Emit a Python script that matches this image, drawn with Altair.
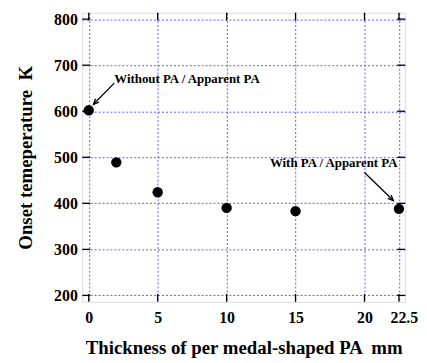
import altair as alt
import pandas as pd

thickness = [0, 2, 5, 10, 15, 22.5]
onset_temp = [602, 489, 424, 390, 383, 388]

x_ticks = [0, 5, 10, 15, 20, 22.5]
y_ticks = [200, 300, 400, 500, 600, 700, 800]
x_domain = [-0.47, 22.95]
y_domain = [186, 814]

notes = ["Without PA / Apparent PA", "With PA / Apparent PA"]
note_x = [1.85, 22.4]
note_y = [669, 487]
note_align = ["left", "right"]
arrow_x1 = [1.85, 20.0]
arrow_y1 = [661, 467]
arrow_x2 = [0.34, 22.09]
arrow_y2 = [615, 406]
arrow_angle = [225, 135]

FONT = "Liberation Serif"
W, H = 326, 292

df = pd.DataFrame({"t": thickness, "T": onset_temp})
xt = pd.DataFrame({"v": x_ticks})
yt = pd.DataFrame({"v": y_ticks})
ann = pd.DataFrame({"text": notes, "x": note_x, "y": note_y, "align": note_align})
arr = pd.DataFrame({"x1": arrow_x1, "y1": arrow_y1, "x2": arrow_x2, "y2": arrow_y2, "ang": arrow_angle})

xs = alt.Scale(domain=x_domain, nice=False, zero=False)
ys = alt.Scale(domain=y_domain, nice=False, zero=False)

xaxis = alt.Axis(values=x_ticks, grid=True, gridColor="#5a5aff", gridDash=[2, 2], gridWidth=1,
                 gridOpacity=1, tickSize=0, domain=False, labelFont=FONT, labelFontWeight="bold",
                 labelFontSize=16, labelColor="black", labelPadding=8, labelFlush=False,
                 labelOffset={"condition": {"test": "datum.value == 22.5", "value": 5}, "value": 0},
                 title="Thickness of per medal-shaped PA \u00a0mm", titleFont=FONT,
                 titleFontWeight="bold", titleFontSize=19, titleColor="black", titlePadding=13,
                 labelExpr="datum.value == 22.5 ? '22.5' : datum.label")
yaxis = alt.Axis(values=y_ticks, grid=True, gridColor="#5a5aff", gridDash=[2, 2], gridWidth=1,
                 gridOpacity=1, tickSize=0, domain=False, labelFont=FONT, labelFontWeight="bold",
                 labelFontSize=16, labelColor="black", labelPadding=5, format="d",
                 title="Onset temeperature \u00a0K", titleFont=FONT, titleFontWeight="bold",
                 titleFontSize=19, titleColor="black", titlePadding=18)

points = alt.Chart(df).mark_circle(size=110, color="black", opacity=1).encode(
    x=alt.X("t:Q", scale=xs, axis=xaxis),
    y=alt.Y("T:Q", scale=ys, axis=yaxis),
)

tick_len = 8
bottom_ticks = alt.Chart(xt).mark_rule(color="black", strokeWidth=1.3).encode(
    x=alt.X("v:Q", scale=xs), y=alt.value(H), y2=alt.value(H - tick_len))
top_ticks = alt.Chart(xt).mark_rule(color="black", strokeWidth=1.3).encode(
    x=alt.X("v:Q", scale=xs), y=alt.value(0), y2=alt.value(tick_len))
left_ticks = alt.Chart(yt).mark_rule(color="black", strokeWidth=1.3).encode(
    y=alt.Y("v:Q", scale=ys), x=alt.value(0), x2=alt.value(tick_len))
right_ticks = alt.Chart(yt).mark_rule(color="black", strokeWidth=1.3).encode(
    y=alt.Y("v:Q", scale=ys), x=alt.value(W), x2=alt.value(W - tick_len))

arrow_lines = alt.Chart(arr).mark_rule(color="black", strokeWidth=1.3).encode(
    x=alt.X("x1:Q", scale=xs), y=alt.Y("y1:Q", scale=ys),
    x2="x2:Q", y2="y2:Q")
arrow_heads = alt.Chart(arr).mark_point(
    shape="M-0.45,1L0,0L0.45,1", filled=False, color="black", strokeWidth=1.3, size=120, opacity=1
).encode(
    x=alt.X("x2:Q", scale=xs), y=alt.Y("y2:Q", scale=ys),
    angle=alt.Angle("ang:Q", scale=None))

ann_left = alt.Chart(ann[ann["align"] == "left"]).mark_text(
    font=FONT, fontWeight="bold", fontSize=13, align="left", baseline="middle", color="black"
).encode(x=alt.X("x:Q", scale=xs), y=alt.Y("y:Q", scale=ys), text="text:N")
ann_right = alt.Chart(ann[ann["align"] == "right"]).mark_text(
    font=FONT, fontWeight="bold", fontSize=13, align="right", baseline="middle", color="black"
).encode(x=alt.X("x:Q", scale=xs), y=alt.Y("y:Q", scale=ys), text="text:N")

chart = alt.layer(
    points, bottom_ticks, top_ticks, left_ticks, right_ticks,
    arrow_lines, arrow_heads, ann_left, ann_right
).properties(
    width=W, height=H,
    autosize=alt.AutoSizeParams(type="none"),
    padding={"left": 75, "top": 3, "right": 14, "bottom": 60},
).configure_view(stroke="#222222", strokeWidth=1.6).configure(background="white")

chart.save("out.html", embed_options={"renderer": "svg", "actions": False})
